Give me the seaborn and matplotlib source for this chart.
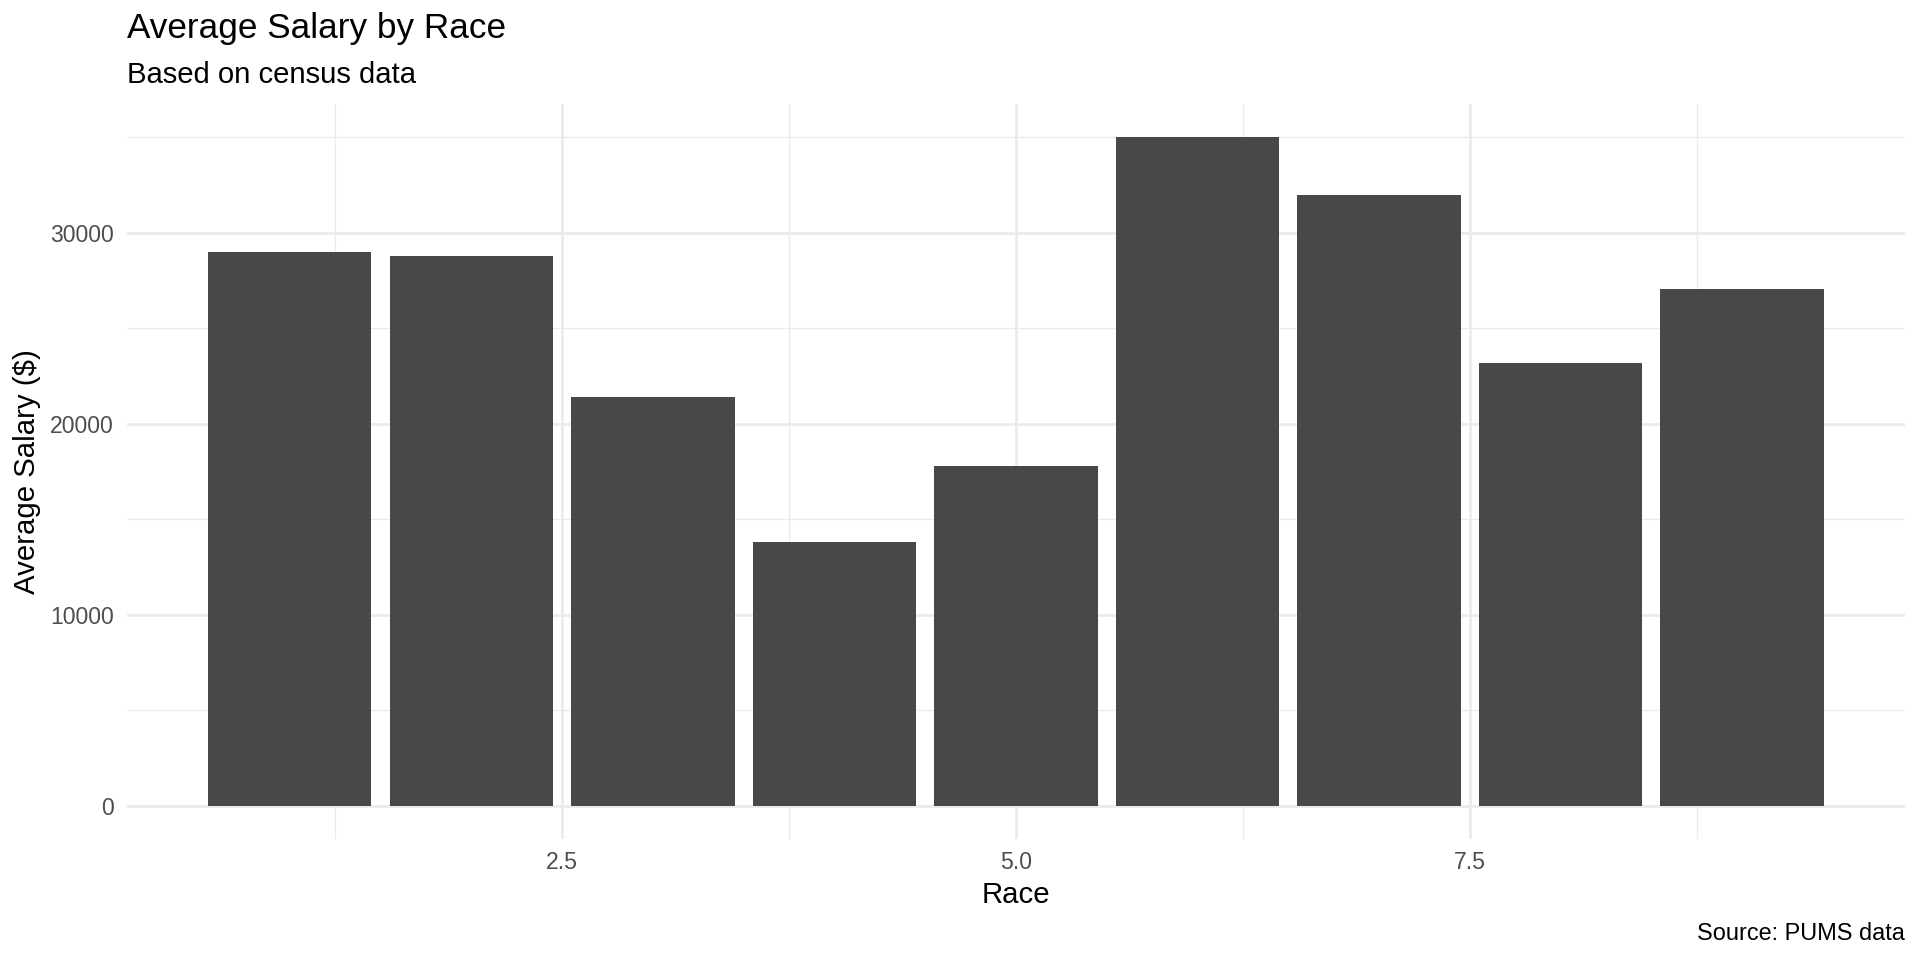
import matplotlib
matplotlib.use("Agg")
import matplotlib.pyplot as plt
import seaborn as sns
import pandas as pd
from matplotlib.ticker import FixedLocator

# ---- data ----
race = [1, 2, 3, 4, 5, 6, 7, 8, 9]
avg_salary = [29000, 28800, 21400, 13800, 17800, 35000, 31950, 23200, 27050]
x_major_ticks = [2.5, 5.0, 7.5]
x_major_labels = ["2.5", "5.0", "7.5"]
x_minor_ticks = [1.25, 3.75, 6.25, 8.75]
y_major_ticks = [0, 10000, 20000, 30000]
y_major_labels = ["0", "10000", "20000", "30000"]
y_minor_ticks = [5000, 15000, 25000, 35000]

df = pd.DataFrame({"Race": race, "Salary": avg_salary})

sns.set_theme(style="white")
plt.rcParams["font.family"] = ["Liberation Sans", "DejaVu Sans"]

W, H = 1920, 960
fig = plt.figure(figsize=(19.2, 9.6), dpi=100)
ax_left, ax_right, ax_top, ax_bottom = 127.4, 1904.5, 103.7, 839.2
ax = fig.add_axes([ax_left / W, 1 - ax_bottom / H,
                   (ax_right - ax_left) / W, (ax_bottom - ax_top) / H])

sns.barplot(data=df, x="Race", y="Salary", native_scale=True, width=0.9,
            color="#484848", saturation=1, ax=ax, zorder=3)
for p in ax.patches:
    p.set_edgecolor("none")
    p.set_linewidth(0)

ax.set_xlim(0.1055, 9.8945)
ax.set_ylim(-1750, 36750)

ax.xaxis.set_major_locator(FixedLocator(x_major_ticks))
ax.set_xticklabels(x_major_labels)
ax.xaxis.set_minor_locator(FixedLocator(x_minor_ticks))
ax.yaxis.set_major_locator(FixedLocator(y_major_ticks))
ax.set_yticklabels(y_major_labels)
ax.yaxis.set_minor_locator(FixedLocator(y_minor_ticks))

ax.grid(True, which="major", color="#EBEBEB", linewidth=2.0, zorder=0)
ax.grid(True, which="minor", color="#EBEBEB", linewidth=1.0, zorder=0)
ax.set_axisbelow(True)
for s in ax.spines.values():
    s.set_visible(False)

ax.tick_params(axis="both", which="both", length=0, labelsize=16.6, labelcolor="#4D4D4D")
ax.tick_params(axis="x", pad=8.4)
ax.tick_params(axis="y", pad=10)

ax.set_xlabel("Race", fontsize=21.2, color="black")
ax.set_ylabel("Average Salary ($)", fontsize=21.2, color="black")
ax.xaxis.set_label_coords(0.5, -(881 - ax_bottom) / (ax_bottom - ax_top))
ax.yaxis.set_label_coords((41 - ax_left) / (ax_right - ax_left), 0.5)

fig.text(ax_left / W, 1 - 38 / H, "Average Salary by Race", fontsize=25.3,
         color="black", ha="left", va="baseline")
fig.text(ax_left / W, 1 - 83 / H, "Based on census data", fontsize=21.1,
         color="black", ha="left", va="baseline")
fig.text(1905 / W, 1 - 940 / H, "Source: PUMS data", fontsize=16.9,
         color="black", ha="right", va="baseline")

fig.savefig("out.png", dpi=100, facecolor="white")
